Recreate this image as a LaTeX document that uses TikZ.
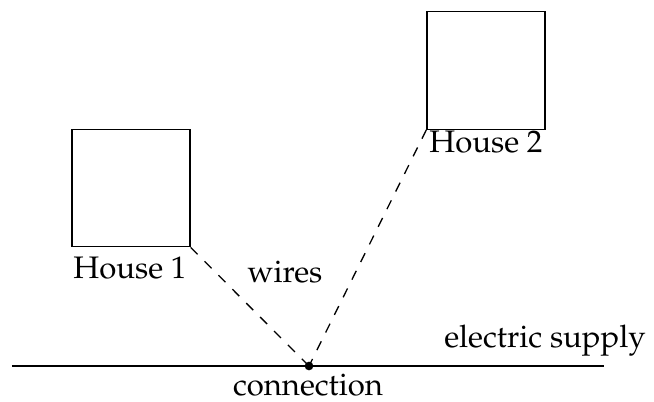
\documentclass[tikz,border=0pt]{standalone}
\usepackage[T1]{fontenc}
\usepackage{mathpazo}
\begin{document}
\begin{tikzpicture}[x=0.3456pt,y=-0.3456pt,
  font=\fontsize{10.75}{13}\selectfont,
  house/.style={draw, line width=0.45pt, minimum width=40.8pt, minimum height=40.6pt, inner sep=0pt},
  lbl/.style={anchor=base, inner sep=0pt},
  wire/.style={dash pattern=on 3.4pt off 3.4pt, line width=0.45pt}]
\useasboundingbox (0,0) rectangle (654,401);
\node[house] (h1) at (131,188) {};
\node[house] (h2) at (486,70.5) {};
\node[lbl] (l1) at (130,278) {House 1};
\node[lbl] (l2) at (486,152) {House 2};
\node[lbl] (w) at (285,282) {wires};
\coordinate (s0) at (12,366);
\coordinate (s1) at (604,366);
\draw[line width=0.45pt] (s0) -- (s1);
\node[circle, fill, inner sep=0pt, minimum size=3pt] (c) at (309,366) {};
\node[lbl] (cl) at (308,395.5) {connection};
\node[lbl] (es) at (545,347) {electric supply};
\draw[wire] (h1.south east) -- (c.center);
\draw[wire] (h2.south west) -- (c.center);
\end{tikzpicture}
\end{document}
